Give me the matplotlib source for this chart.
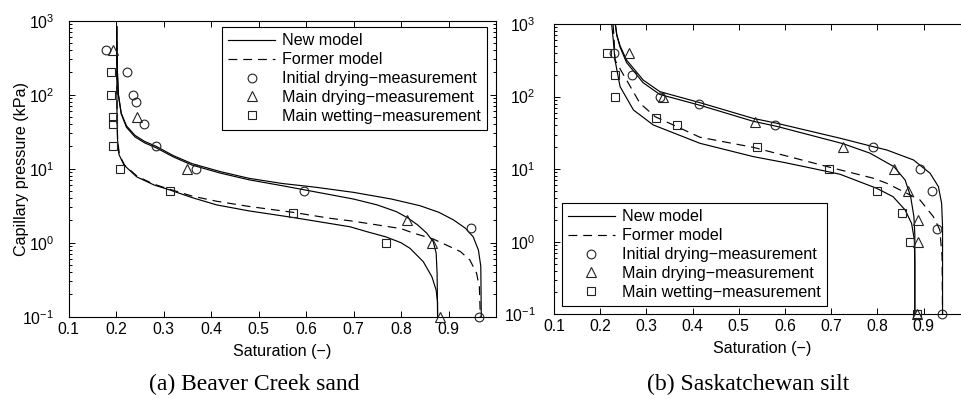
import matplotlib
matplotlib.use("Agg")
import matplotlib.pyplot as plt
from matplotlib.ticker import FixedLocator, FormatStrFormatter, LogLocator

plt.rcParams['font.family'] = ['Liberation Sans', 'DejaVu Sans']
plt.rcParams['mathtext.fontset'] = 'custom'
plt.rcParams['mathtext.rm'] = 'Liberation Sans'
plt.rcParams['mathtext.it'] = 'Liberation Sans:italic'
plt.rcParams['mathtext.bf'] = 'Liberation Sans:bold'

# ---------------- (a) Beaver Creek sand ----------------
bc_init_S = [0.2015, 0.202, 0.203, 0.205, 0.211, 0.222, 0.240, 0.260, 0.285, 0.320, 0.360, 0.420, 0.480,
             0.550, 0.620, 0.700, 0.780, 0.840, 0.880, 0.910, 0.935, 0.952, 0.963, 0.968, 0.969]
bc_init_P = [832, 398, 200, 100, 56.2, 38.0, 28.2, 23.4, 20.0, 15.1, 11.7, 9.12, 7.41,
             6.31, 5.62, 4.79, 3.89, 3.16, 2.57, 2.04, 1.58, 1.20, 0.794, 0.479, 0.1]
bc_dry_S = [0.2015, 0.202, 0.203, 0.205, 0.211, 0.222, 0.240, 0.260, 0.285, 0.320, 0.360, 0.420, 0.480,
            0.550, 0.650, 0.700, 0.750, 0.790, 0.813, 0.835, 0.854, 0.868, 0.874, 0.876, 0.877]
bc_dry_P = [832, 398, 200, 100, 55.0, 36.3, 26.9, 22.4, 19.1, 14.5, 11.2, 8.71, 7.08,
            5.89, 4.47, 3.89, 3.24, 2.63, 2.19, 1.74, 1.35, 1.03, 0.724, 0.389, 0.1]
bc_wet_S = [0.2015, 0.2018, 0.2021, 0.2032, 0.2063, 0.2168, 0.2436, 0.280, 0.3137, 0.360, 0.412, 0.480,
            0.573, 0.693, 0.728, 0.768, 0.800, 0.819, 0.847, 0.865, 0.874, 0.877, 0.877]
bc_wet_P = [832, 200, 45.7, 24.5, 15.5, 11.2, 7.76, 6.03, 5.15, 4.07, 3.24, 2.69,
            2.19, 1.64, 1.41, 1.20, 1.0, 0.839, 0.553, 0.347, 0.229, 0.158, 0.1]
bc_old_S = [0.2015, 0.2019, 0.2023, 0.2035, 0.207, 0.218, 0.245, 0.280, 0.314, 0.360, 0.412, 0.480, 0.573,
            0.650, 0.700, 0.730, 0.800, 0.826, 0.868, 0.903, 0.925, 0.945, 0.959, 0.965, 0.967]
bc_old_P = [832, 200, 45.7, 24.5, 15.5, 11.2, 7.85, 6.17, 5.25, 4.27, 3.63, 3.09, 2.57,
            2.14, 1.95, 1.82, 1.55, 1.35, 1.12, 0.883, 0.759, 0.583, 0.389, 0.251, 0.1]
bc_idm_S = [0.178, 0.224, 0.236, 0.243, 0.259, 0.285, 0.368, 0.596, 0.947, 0.964]
bc_idm_P = [400, 200, 100, 80, 40, 20, 10, 5, 1.6, 0.1]
bc_mdm_S = [0.194, 0.244, 0.349, 0.813, 0.866, 0.882]
bc_mdm_P = [400, 50, 10, 2, 1, 0.1]
bc_mwm_S = [0.189, 0.189, 0.193, 0.194, 0.193, 0.208, 0.314, 0.573, 0.768]
bc_mwm_P = [200, 100, 50, 40, 20, 10, 5, 2.5, 1]

# ---------------- (b) Saskatchewan silt ----------------
ss_init_S = [0.233, 0.236, 0.243, 0.257, 0.293, 0.329, 0.416, 0.531, 0.582, 0.719, 0.791, 0.820, 0.878,
             0.914, 0.932, 0.939, 0.941, 0.941]
ss_init_P = [968, 708, 501, 319, 169, 117, 82.4, 50.1, 42.9, 26.7, 20.4, 18.4, 13.4,
             8.79, 5.75, 3.39, 1.61, 0.1]
ss_dry_S = [0.233, 0.236, 0.243, 0.257, 0.293, 0.329, 0.416, 0.531, 0.582, 0.726, 0.784, 0.836, 0.860,
            0.872, 0.879, 0.881, 0.881]
ss_dry_P = [968, 692, 479, 295, 155, 107, 75.9, 45.7, 38.9, 22.4, 16.6, 10.8, 7.08,
            4.17, 2.22, 1.26, 0.1]
ss_wet_S = [0.225, 0.228, 0.232, 0.243, 0.272, 0.315, 0.416, 0.531, 0.600, 0.661, 0.719, 0.798, 0.834,
            0.860, 0.874, 0.880, 0.881, 0.881]
ss_wet_P = [968, 631, 319, 137, 65.3, 40.6, 22.7, 14.9, 12.3, 10.2, 8.51, 5.46, 4.17,
            2.74, 1.79, 1.06, 0.5, 0.1]
ss_old_S = [0.228, 0.230, 0.232, 0.257, 0.286, 0.319, 0.366, 0.416, 0.531, 0.705, 0.791, 0.820, 0.892,
            0.921, 0.935, 0.940, 0.941]
ss_old_P = [968, 631, 319, 169, 80.9, 52.8, 38.5, 27.5, 20.0, 10.3, 7.50, 6.40, 3.77,
            2.22, 1.46, 0.631, 0.1]
ss_idm_S = [0.2305, 0.268, 0.329, 0.4145, 0.579, 0.791, 0.892, 0.919, 0.928, 0.940]
ss_idm_P = [400, 200, 100, 80, 40, 20, 10, 5, 1.5, 0.1]
ss_mdm_S = [0.262, 0.335, 0.535, 0.726, 0.837, 0.866, 0.888, 0.888, 0.885]
ss_mdm_P = [400, 100, 45, 20, 10, 5, 2, 1, 0.1]
ss_mwm_S = [0.214, 0.232, 0.232, 0.320, 0.366, 0.539, 0.695, 0.800, 0.853, 0.871, 0.885]
ss_mwm_P = [400, 200, 100, 50, 40, 20, 10, 5, 2.5, 1, 0.1]

legend_labels = ["New model", "Former model", "Initial drying\u2212measurement",
                 "Main drying\u2212measurement", "Main wetting\u2212measurement"]
x_ticks = [0.1, 0.2, 0.3, 0.4, 0.5, 0.6, 0.7, 0.8, 0.9]
captions = ["(a) Beaver Creek sand", "(b) Saskatchewan silt"]

W, H = 961, 399
fig = plt.figure(figsize=(W / 100, H / 100), dpi=100)

def px_axes(l, r, t, b):
    return [l / W, 1 - b / H, (r - l) / W, (b - t) / H]

ax1 = fig.add_axes(px_axes(68.5, 496, 20.7, 316.7))
ax2 = fig.add_axes(px_axes(554, 969.8, 24, 314.3))

FS = 11.3
LW = 0.85
dash = (0, (7.5, 5))
mk = dict(mfc='none', mec='#222222', mew=0.8, ls='none', clip_on=False, zorder=5)

def draw(ax, curves_new, curve_old, idm, mdm, mwm, ypad):
    h_new = None
    for S, P in curves_new:
        h_new, = ax.plot(S, P, color='black', lw=LW)
    h_old, = ax.plot(curve_old[0], curve_old[1], color='black', lw=LW, ls=dash)
    h1, = ax.plot(idm[0], idm[1], marker='o', ms=6.3, **mk)
    h2, = ax.plot(mdm[0], mdm[1], marker='^', ms=6.8, **mk)
    h3, = ax.plot(mwm[0], mwm[1], marker='s', ms=5.2, **mk)
    ax.set_yscale('log')
    ax.set_xlim(0.1, 1.0)
    ax.set_ylim(0.1, 1000)
    ax.xaxis.set_major_locator(FixedLocator(x_ticks))
    ax.xaxis.set_major_formatter(FormatStrFormatter('%.1f'))
    ax.yaxis.set_major_locator(LogLocator(base=10, numticks=10))
    ax.yaxis.set_minor_locator(LogLocator(base=10, subs=range(2, 10), numticks=10))
    ax.tick_params(which='both', direction='in', top=True, right=True, labelsize=FS, width=0.7)
    ax.tick_params(axis='x', which='major', length=4, pad=3.5)
    ax.tick_params(axis='y', which='major', length=4, pad=ypad)
    ax.tick_params(axis='y', which='minor', length=2.2)
    for sp in ax.spines.values():
        sp.set_linewidth(0.8)
    ax.set_xlabel("Saturation (\u2212)", fontsize=11.6, labelpad=5)
    return [h_new, h_old, h1, h2, h3]

handles1 = draw(ax1, [(bc_init_S, bc_init_P), (bc_dry_S, bc_dry_P), (bc_wet_S, bc_wet_P)],
                (bc_old_S, bc_old_P), (bc_idm_S, bc_idm_P), (bc_mdm_S, bc_mdm_P), (bc_mwm_S, bc_mwm_P), 10.5)
handles2 = draw(ax2, [(ss_init_S, ss_init_P), (ss_dry_S, ss_dry_P), (ss_wet_S, ss_wet_P)],
                (ss_old_S, ss_old_P), (ss_idm_S, ss_idm_P), (ss_mdm_S, ss_mdm_P), (ss_mwm_S, ss_mwm_P), 13.5)

ax1.set_ylabel("Capillary pressure (kPa)", fontsize=11.6)
ax1.yaxis.set_label_coords(-0.093, 0.5)

leg_kw = dict(fontsize=11.6, frameon=True, fancybox=False, framealpha=1, edgecolor='black',
              handlelength=2.9, handletextpad=0.45, labelspacing=0.24, borderpad=0.38, borderaxespad=0)
lg1 = ax1.legend(handles1, legend_labels, loc='upper right', bbox_to_anchor=(0.9797, 0.9777), **leg_kw)
lg2 = ax2.legend(handles2, legend_labels, loc='lower left', bbox_to_anchor=(0.0185, 0.0286), **leg_kw)
for lg in (lg1, lg2):
    lg.get_frame().set_linewidth(0.8)

fig.text(254.5 / W, 1 - 384 / H, captions[0], family='Liberation Serif', fontsize=17, ha='center', va='center')
fig.text(748 / W, 1 - 384 / H, captions[1], family='Liberation Serif', fontsize=17, ha='center', va='center')

fig.savefig("out.png", dpi=100)
